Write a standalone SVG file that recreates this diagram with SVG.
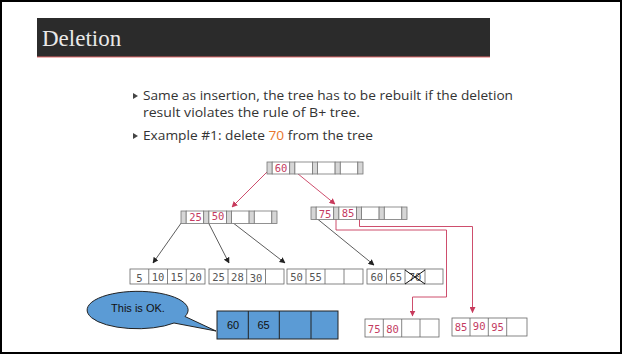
<svg xmlns="http://www.w3.org/2000/svg" width="622" height="354" viewBox="0 0 622 354">
<defs>
<style>
.frame{fill:#fff;stroke:#000;stroke-width:2}
.g{fill:#d6d6d6;stroke:#777;stroke-width:0.8}
.k{fill:#fff;stroke:#777;stroke-width:0.8}
.leaf{fill:#fff;stroke:#666;stroke-width:0.8}
.div{stroke:#666;stroke-width:0.8}
.kt{font-family:"DejaVu Sans Mono",monospace;font-size:10.5px;fill:#c43c62;text-anchor:middle}
.lt{font-family:"DejaVu Sans Mono",monospace;font-size:10.5px;fill:#555;text-anchor:middle}
.body{font-family:"Open Sans",Lato,sans-serif;font-size:13px;fill:#333}
.red{fill:none;stroke:#c83a5c;stroke-width:0.9}
.blk{fill:none;stroke:#333;stroke-width:0.8}
.blue{fill:#5b9bd5;stroke:#222;stroke-width:1}
.bt{font-family:"Liberation Sans",Arial,sans-serif;font-size:11px;fill:#111;text-anchor:middle}
</style>
<marker id="ar" viewBox="0 0 10 10" refX="9" refY="5" markerWidth="6" markerHeight="6" markerUnits="userSpaceOnUse" orient="auto"><path d="M0,0 L10,5 L0,10 z" fill="#c83a5c"/></marker>
<marker id="ab" viewBox="0 0 10 10" refX="9" refY="5" markerWidth="6" markerHeight="6" markerUnits="userSpaceOnUse" orient="auto"><path d="M0,0 L10,5 L0,10 z" fill="#222"/></marker>
</defs>
<rect class="frame" x="1" y="1" width="620" height="352"/>
<g id="title">
<rect x="37" y="18" width="453" height="39" fill="#2b2b2b"/>
<line x1="37" y1="57" x2="490" y2="57" stroke="#e06a6a" stroke-width="1"/>
<text x="42" y="46" font-family="Liberation Serif,serif" font-size="23" fill="#e8e8e8">Deletion</text>
</g>
<g id="bullets">
<polygon points="133,93 138,96 133,99" fill="#444"/>
<text class="body" x="143" y="100" textLength="370" lengthAdjust="spacingAndGlyphs">Same as insertion, the tree has to be rebuilt if the deletion</text>
<text class="body" x="143" y="117" textLength="217" lengthAdjust="spacingAndGlyphs">result violates the rule of B+ tree.</text>
<polygon points="133,133 138,136 133,139" fill="#444"/>
<text class="body" x="143" y="140" textLength="230" lengthAdjust="spacingAndGlyphs">Example #1: delete <tspan fill="#e8762b">70</tspan> from the tree</text>
</g>
<g id="connectors">
<line class="red" x1="269" y1="170" x2="232" y2="207" marker-end="url(#ar)"/>
<line class="red" x1="292" y1="169" x2="335" y2="204" marker-end="url(#ar)"/>
<path class="red" d="M336,219 V230 H446.5 V297 H412.5 V316" marker-end="url(#ar)"/>
<path class="red" d="M359.5,219 V226.5 H472.5 V312.5" marker-end="url(#ar)"/>
<line class="blk" x1="184" y1="219" x2="153" y2="263" marker-end="url(#ab)"/>
<line class="blk" x1="206" y1="218" x2="229" y2="263" marker-end="url(#ab)"/>
<line class="blk" x1="228" y1="219" x2="285" y2="263" marker-end="url(#ab)"/>
<line class="blk" x1="315" y1="217" x2="374" y2="265" marker-end="url(#ab)"/>
</g>
<g id="root" transform="translate(267,162)">
<rect class="g" x="0" y="0" width="5.2" height="12"/><rect class="k" x="5.2" y="0" width="17.5" height="12"/>
<rect class="g" x="22.7" y="0" width="5.2" height="12"/><rect class="k" x="27.9" y="0" width="17.5" height="12"/>
<rect class="g" x="45.4" y="0" width="5.2" height="12"/><rect class="k" x="50.6" y="0" width="17.5" height="12"/>
<rect class="g" x="68.1" y="0" width="5.2" height="12"/><rect class="k" x="73.3" y="0" width="17.5" height="12"/>
<rect class="g" x="90.8" y="0" width="5.2" height="12"/>
<text class="kt" x="14" y="9.5">60</text>
</g>
<g id="inner-left" transform="translate(181,211)">
<rect class="g" x="0" y="0" width="5.2" height="12.5"/><rect class="k" x="5.2" y="0" width="17.5" height="12.5"/>
<rect class="g" x="22.7" y="0" width="5.2" height="12.5"/><rect class="k" x="27.9" y="0" width="17.5" height="12.5"/>
<rect class="g" x="45.4" y="0" width="5.2" height="12.5"/><rect class="k" x="50.6" y="0" width="17.5" height="12.5"/>
<rect class="g" x="68.1" y="0" width="5.2" height="12.5"/><rect class="k" x="73.3" y="0" width="17.5" height="12.5"/>
<rect class="g" x="90.8" y="0" width="5.2" height="12.5"/>
<text class="kt" x="14.5" y="10">25</text><text class="kt" x="37" y="9">50</text>
</g>
<g id="inner-right" transform="translate(311,207)">
<rect class="g" x="0" y="0" width="5.2" height="12.5"/><rect class="k" x="5.2" y="0" width="17.5" height="12.5"/>
<rect class="g" x="22.7" y="0" width="5.2" height="12.5"/><rect class="k" x="27.9" y="0" width="17.5" height="12.5"/>
<rect class="g" x="45.4" y="0" width="5.2" height="12.5"/><rect class="k" x="50.6" y="0" width="17.5" height="12.5"/>
<rect class="g" x="68.1" y="0" width="5.2" height="12.5"/><rect class="k" x="73.3" y="0" width="17.5" height="12.5"/>
<rect class="g" x="90.8" y="0" width="5.2" height="12.5"/>
<text class="kt" x="14" y="10.5">75</text><text class="kt" x="37" y="10">85</text>
</g>
<g id="leaf1">
<rect class="leaf" x="130" y="269" width="75" height="15"/>
<path class="div" d="M148.75,269V284M167.5,269V284M186.25,269V284"/>
<text class="lt" x="139.4" y="281.5">5</text><text class="lt" x="158.1" y="280.5">10</text><text class="lt" x="176.9" y="281">15</text><text class="lt" x="195.6" y="281">20</text>
</g>
<g id="leaf2">
<rect class="leaf" x="209" y="269" width="75" height="15"/>
<path class="div" d="M228,269V284M246.7,269V284M265.5,269V284"/>
<text class="lt" x="218.5" y="281">25</text><text class="lt" x="237.4" y="281">28</text><text class="lt" x="256.1" y="282">30</text>
</g>
<g id="leaf3">
<rect class="leaf" x="287" y="269" width="76" height="15"/>
<path class="div" d="M306,269V284M325,269V284M344,269V284"/>
<text class="lt" x="296.5" y="281">50</text><text class="lt" x="315.5" y="281">55</text>
</g>
<g id="leaf4">
<rect class="leaf" x="367" y="269" width="76" height="15"/>
<path class="div" d="M386.5,269V284M405,269V284M425,269V284"/>
<text class="lt" x="376.8" y="281">60</text><text class="lt" x="395.8" y="281">65</text><text class="lt" x="415" y="281">70</text>
<path d="M405,270 L425,284 M425,270 L405,284" stroke="#111" stroke-width="1"/>
</g>
<g id="leaf5">
<rect class="leaf" x="365" y="319" width="74" height="18"/>
<path class="div" d="M383.3,319V337M401.7,319V337M420,319V337"/>
<text class="kt" x="374.2" y="333">75</text><text class="kt" x="392.5" y="332.5">80</text>
</g>
<g id="leaf6">
<rect class="leaf" x="452" y="318" width="75" height="18"/>
<path class="div" d="M470,318V336M488.3,318V336M506.7,318V336"/>
<text class="kt" x="461" y="330.5">85</text><text class="kt" x="479.2" y="330">90</text><text class="kt" x="497.5" y="330.5">95</text>
</g>
<g id="callout">
<path class="blue" d="M174,323 A50.5,18.7 0 1 1 185,316.5 L216,331 Z"/>
<text class="bt" x="138" y="311.5">This is OK.</text>
</g>
<g id="blue-node">
<rect class="blue" x="217" y="311" width="121" height="28"/>
<path d="M248.3,311V339M279.3,311V339M311,311V339" stroke="#222" stroke-width="1"/>
<text class="bt" x="233" y="329">60</text><text class="bt" x="263.5" y="329">65</text>
</g>
</svg>
